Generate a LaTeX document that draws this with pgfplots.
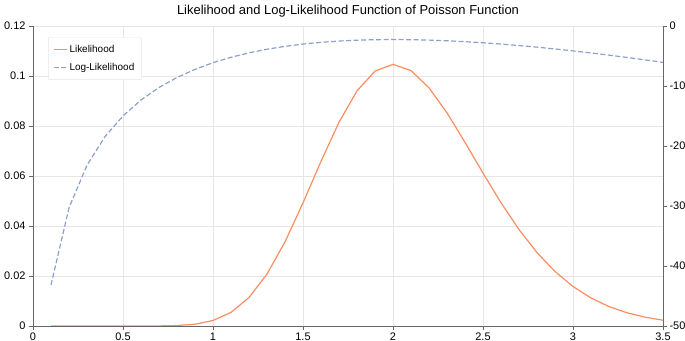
\documentclass[border=0pt]{standalone}
\usepackage{fontspec}
\setmainfont{Liberation Sans}
\usepackage{pgfplots}
\pgfplotsset{compat=1.18}
\definecolor{lcol}{HTML}{FC8D62}
\definecolor{llcol}{HTML}{8DA0CB}
\definecolor{gridc}{HTML}{E6E6E6}
\definecolor{axc}{HTML}{666666}
\begin{document}
\begin{tikzpicture}
\pgfplotsset{
  base/.style={
    scale only axis, width=630bp, height=300bp,
    xmin=0, xmax=3.5,
    tick align=outside, major tick length=4bp,
    tick style={axc, line width=0.8bp},
    ticklabel style={font=\fontsize{11}{13}\selectfont, text=black},
    /pgf/number format/assume math mode=true,
  }
}
\begin{axis}[base, name=ax,
  axis x line*=bottom, axis y line*=left,
  axis line style={axc, line width=0.8bp},
  ymin=0, ymax=0.12,
  xtick={0,0.5,...,3.5},
  ytick={0,0.02,0.04,0.06,0.08,0.1,0.12},
  scaled y ticks=false,
  yticklabel style={/pgf/number format/fixed, /pgf/number format/precision=2},
  xticklabels={0,0.5,1,1.5,2,2.5,3,3.5},
  grid=major, grid style={gridc, line width=0.8bp},
  xtick pos=bottom, ytick pos=left,
  xticklabel style={yshift=1bp},
  title={Likelihood and Log-Likelihood Function of Poisson Function},
  title style={font=\fontsize{13}{15}\selectfont, yshift=-1bp},
]
\addplot[lcol, line width=1.2bp] coordinates {
(0.1,0) (0.2,0) (0.3,0) (0.4,0.0000000) (0.5,0.0000003) (0.6,0.0000044) (0.7,0.0000353)
(0.8,0.000187) (0.9,0.000727) (1.0,0.00220) (1.1,0.00544) (1.2,0.01140)
(1.3,0.02080) (1.4,0.03366) (1.5,0.04925) (1.6,0.06587) (1.7,0.08151)
(1.8,0.09404) (1.9,0.10197) (2.0,0.10466) (2.1,0.10217) (2.2,0.09527)
(2.3,0.08527) (2.4,0.07346) (2.5,0.06117) (2.6,0.04929) (2.7,0.03857)
(2.8,0.02936) (2.9,0.02180) (3.0,0.01580) (3.1,0.01120) (3.2,0.00777)
(3.3,0.00529) (3.4,0.00354) (3.5,0.00232)
};
\end{axis}
\begin{axis}[base,
  axis x line=none, axis y line*=right,
  axis line style={axc, line width=0.8bp},
  ymin=-50, ymax=0,
  ytick={-50,-40,-30,-20,-10,0},
  ytick pos=right,
  yticklabel style={xshift=-1bp},
  legend style={at={(0.024,0.963)}, anchor=north west, draw=gridc, fill=white,
    font=\fontsize{10}{12}\selectfont, rounded corners=1bp,
    row sep=5bp, inner xsep=5bp, inner ysep=6bp},
  legend cell align=left,
  legend image code/.code={\draw[#1] (0bp,0bp) -- (13bp,0bp);},
]
\addlegendimage{lcol, line width=1.2bp}
\addlegendentry{Likelihood}
\addplot[llcol, line width=1.2bp, dash pattern=on 5bp off 2.5bp] coordinates {
(0.1,-43.172) (0.2,-30.309) (0.3,-23.199) (0.4,-18.446) (0.5,-14.983)
(0.6,-12.337) (0.7,-10.253) (0.8,-8.583) (0.9,-7.227) (1.0,-6.120)
(1.1,-5.214) (1.2,-4.474) (1.3,-3.873) (1.4,-3.391) (1.5,-3.011)
(1.6,-2.720) (1.7,-2.507) (1.8,-2.364) (1.9,-2.283) (2.0,-2.257)
(2.1,-2.281) (2.2,-2.351) (2.3,-2.462) (2.4,-2.611) (2.5,-2.794)
(2.6,-3.010) (2.7,-3.255) (2.8,-3.528) (2.9,-3.826) (3.0,-4.148)
(3.1,-4.492) (3.2,-4.857) (3.3,-5.242) (3.4,-5.645) (3.5,-6.065)
};
\addlegendentry{Log-Likelihood}
\end{axis}
\pgfresetboundingbox
\path (ax.south west) ++(-33bp,-15bp) coordinate (bl);
\path (ax.north east) ++(22bp,26bp) coordinate (tr);
\path (bl) rectangle (tr);
\end{tikzpicture}
\end{document}
